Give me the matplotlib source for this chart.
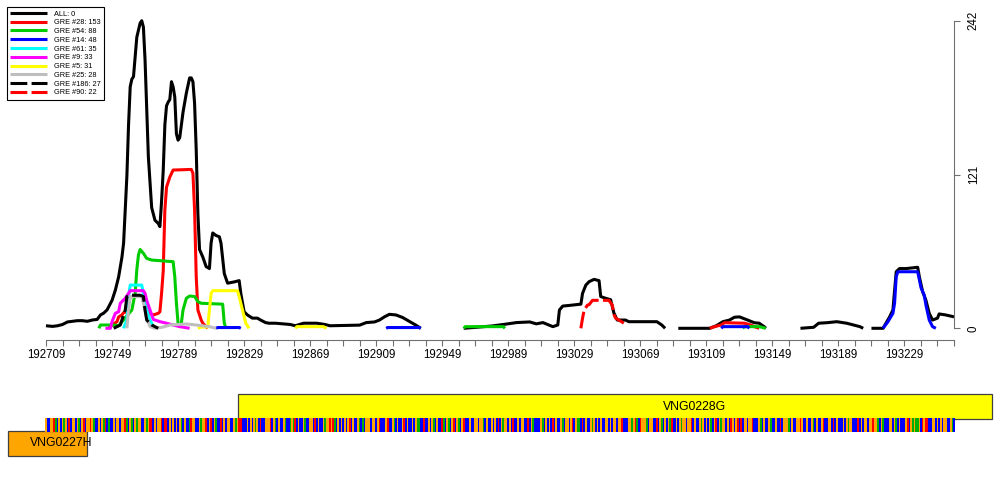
import numpy as np
import matplotlib
matplotlib.use("Agg")
import matplotlib.pyplot as plt

plt.rcParams['font.family'] = ['Liberation Sans', 'DejaVu Sans']

x_start, x_end = 192709, 193259
y_max = 242
N = None  # gap between covered regions

# coverage of all reads (black)
all_pos = [192709, 192713, 192716, 192719, 192722, 192725, 192728, 192731, 192734, 192737,
           192740, 192742, 192744, 192746, 192749, 192751, 192753, 192755, 192756, 192757,
           192758, 192759, 192760, 192761, 192762, 192763, 192764, 192766, 192767, 192768,
           192769, 192770, 192771, 192773, 192775, 192777, 192778, 192779, 192780, 192781,
           192782, 192783, 192784, 192785, 192786, 192787, 192788, 192789, 192790, 192791,
           192792, 192794, 192796, 192797, 192798, 192799, 192800, 192801, 192802, 192804,
           192806, 192808, 192809, 192810, 192812, 192814, 192815, 192817, 192819, 192823,
           192826, 192827, 192829, 192831, 192834, 192837, 192839, 192842, 192844, 192848,
           192857, 192860, 192865, 192873, 192878, 192881, 192899, 192903, 192908, 192911,
           192914, 192917, 192921, 192925, 192929, 192933, 192936, N,
           192962, 192979, 192986, 192994, 193002, 193006, 193010, 193016, 193019, 193020,
           193022, 193026, 193033, 193034, 193036, 193038, 193041, 193044, 193045, 193048,
           193051, 193053, 193055, 193060, 193062, 193079, 193082, 193084, N,
           193092, 193111, 193115, 193119, 193123, 193126, 193129, 193133, 193138, 193141,
           193144, 193145, N,
           193166, 193174, 193177, 193182, 193188, 193194, 193202, 193204, N,
           193209, 193216, 193220, 193222, 193224, 193226, 193230, 193237, 193238, 193240,
           193242, 193244, 193246, 193249, 193250, 193254, 193259]
all_val = [2, 1.5, 2, 3, 5, 5.5, 6, 6, 5.5, 6.5,
           7, 10.5, 12, 14.5, 22, 30, 40.5, 56, 67, 93,
           120, 160, 190, 196, 198, 214, 229, 240, 242, 237,
           211, 172, 135, 95, 85, 82.5, 80, 100, 124, 160,
           175, 178, 180, 194, 190, 182, 153, 148, 150, 160,
           170, 185, 197, 197, 194, 177, 140, 90, 62, 56,
           48.5, 47, 67, 75, 73, 72, 67, 43, 35.5, 36.5,
           37.5, 27.5, 13, 10.5, 8, 8, 6.5, 4.5, 4, 4,
           3, 2, 4, 4, 3, 2, 2.5, 4.5, 5, 6.5,
           9, 11, 10.5, 8.5, 5.5, 2.5, 0, N,
           0, 1.8, 3, 4.5, 5, 3.5, 4.5, 1.3, 2.6, 14.4,
           17.5, 18, 19, 27.5, 34, 36.7, 38.5, 37.5, 25, 23.6,
           22.5, 12, 6.5, 6.5, 5.2, 5.2, 2.6, 0, N,
           0, 0, 2, 5.2, 6.5, 8.7, 9, 7, 4.4, 4,
           1.3, 0, N,
           0, 0.8, 4, 4.4, 5.2, 4, 1.3, 0, N,
           0, 0, 9, 14.4, 44.5, 47, 47, 48, 40.6, 28.8,
           22, 11.8, 6.5, 8, 11.3, 10.5, 9]

gre28_pos = [192747, 192749, 192752, 192753, 192755, 192756, 192758, 192760, 192768, 192770,
             192772, 192774, 192777, 192778, 192779, 192780, 192781, 192782, 192784, 192786,
             192797, 192798, 192799, 192800, 192801, 192803, 192804, 192806, 192807, N,
             193111, 193114, 193118, 193120, 193132, 193136, 193138, 193141]
gre28_val = [0, 2.6, 5.2, 9, 10.5, 12.3, 13, 25, 25, 14.4,
             11.8, 10.5, 11.8, 13, 27.5, 45, 93, 111, 119, 124.5,
             125, 122, 93, 40.6, 14.4, 6.5, 4, 1.3, 0, N,
             0, 1.3, 2.6, 4.4, 4, 2.6, 1.3, 0]

gre54_pos = [192741, 192742, 192750, 192753, 192761, 192763, 192764, 192765, 192766, 192768,
             192770, 192773, 192786, 192787, 192788, 192789, 192790, 192791, 192792, 192794,
             192796, 192799, 192801, 192803, 192816, 192817, 192818, N,
             192962, 192963, 192986, 192987, N,
             193131, 193132, 193141, 193145]
gre54_val = [0, 2.6, 2.6, 2, 14.4, 27.5, 46, 57.7, 62, 59,
             55, 53.7, 52.4, 40.6, 19.7, 4, 1.3, 4, 14.4, 23.6,
             25.4, 25, 21, 19.7, 19, 4, 0, N,
             0, 1.3, 1.3, 0, N,
             0, 1.3, 1.3, 0]

gre14_pos = [192812, 192813, 192826, 192827, N,
             192915, 192916, 192935, 192936, N,
             193118, 193119, 193134, 193135, N,
             193216, 193219, 193222, 193223, 193224, 193225, 193237, 193239, 193241, 193242,
             193244, 193246, 193248]
gre14_val = [0, 0.6, 0.6, 0, N,
             0, 0.6, 0.6, 0, N,
             0, 1.3, 1.3, 0, N,
             0, 5.2, 11.8, 19.7, 40.6, 44.5, 44.5, 32, 26, 18.3,
             6.5, 1.3, 0]

gre61_pos = [192756, 192758, 192759, 192760, 192767, 192768, 192770, 192772, 192774, 192775]
gre61_val = [0, 6.5, 25, 34, 34, 27.5, 14.4, 6.5, 1.3, 0]

gre9_pos = [192745, 192748, 192749, 192751, 192753, 192754, 192755, 192757, 192759, 192760,
            192768, 192769, 192770, 192772, 192774, 192778, 192782, 192786, 192790, 192796]
gre9_val = [0, 0, 5.2, 11.8, 13, 19.7, 21, 23.6, 27.5, 29.6,
            29.6, 27.5, 22, 14.4, 7, 5.2, 4, 2.6, 1.3, 0]

gre5_pos = [192801, 192803, 192807, 192808, 192809, 192810, 192825, 192826, 192828, 192830,
            192832, N,
            192860, 192861, 192877, 192879]
gre5_val = [0, 1, 1, 14.4, 27.5, 29.6, 29.6, 25, 14.4, 4,
            0, N,
            0, 1.3, 1.3, 0]

gre25_pos = [192758, 192759, 192760, 192767, 192768, 192770, 192772, 192775, 192780, 192784,
             192794, 192800, 192808, 192812]
gre25_val = [0, 14.4, 25, 25, 19.7, 8, 1.3, 0, 1, 2.6,
             3.4, 2.6, 1.3, 0]

gre186_pos = [192750, 192752, 192754, 192757, 192758, 192760, 192766, 192768, 192769, 192770,
              192773, 192775, 192777]
gre186_val = [0, 1.3, 2.6, 14.4, 25, 26, 26, 25, 14.4, 6.5,
              2.6, 1.3, 0]

gre90_pos = [193033, 193034, 193035, 193037, 193038, 193040, 193050, 193052, 193053, 193054,
             193056, 193059]
gre90_val = [0, 8, 14.4, 18.3, 18.6, 22, 22, 18.3, 11, 8,
             6.5, 4]

series_labels = ["ALL: 0", "GRE #28: 153", "GRE #54: 88", "GRE #14: 48", "GRE #61: 35",
                 "GRE #9: 33", "GRE #5: 31", "GRE #25: 28", "GRE #186: 27", "GRE #90: 22"]
series_pos = [all_pos, gre28_pos, gre54_pos, gre14_pos, gre61_pos,
              gre9_pos, gre5_pos, gre25_pos, gre186_pos, gre90_pos]
series_val = [all_val, gre28_val, gre54_val, gre14_val, gre61_val,
              gre9_val, gre5_val, gre25_val, gre186_val, gre90_val]
series_col = ['black', '#FF0000', '#00CC00', '#0000FF', '#00FFFF',
              '#FF00FF', '#FFFF00', '#BEBEBE', 'black', '#FF0000']
series_dash = [False] * 8 + [True, True]

# genes and sequence
gene_names = ["VNG0228G", "VNG0227H"]
gene_start = [192825, 192686]
gene_end = [193282, 192734]
gene_cols = ['#FFFF00', '#FFA500']
gene_label_x = [193102, 192718]

sequence = ("GCCGGTACGCGAGCTCGGCGACGTCGGTGACCGCGATCACCGCGGCGGTA"
            "CGACGAGGCCGAGTTCGCGGTCTTCGCGCGCGACGCCATGGCCGAGGTCG"
            "TCGACCTCGCGGCCGAGTTCCCGCGCGAGCTCCGGGTCGACGCCGACCAG"
            "ATCGCCGACCGGCTCGCCGAGGTGTACGCGCGCGTCGCCGACACGGGCGG"
            "CGTCCCGTCCGACGCCGTCGCCGCGAACCTCCGCGACGCCTACGACGTCG"
            "ACGTCCCGCCGGCGGACGCCGCGCTCGAGGCGCTCCGCGGCCTCGACCCC"
            "GACGCGCTCGCCGACGGCGTCGAACTCGCCGAGCGCGCCGGCGCGGCGGT"
            "CCCGGAGTACTGGGACGGCCTCGACGCGATCCGCGAGGCGGTCGCCGAGC"
            "GCGACGTCGAGGCGCTGCGTCTCGGCGGTCCCGACGCCGACCGCCTCGGG"
            "ACGCCGGTGCCGCCGACGCCGTCCGGCTCGCCCGCGAGGCCCTCGCGGCG"
            "GTGGACGACCCGGCGACGCCCGTCGAGAAGCTGTTCCGGCGCGCGGCCGAC"
            "GCGACCTCGTCGAGGCG")
base_col = {'A': '#00B000', 'C': '#0000FF', 'G': '#FFA500', 'T': '#FF0000'}

fig = plt.figure(figsize=(10, 5), dpi=100)
ax = fig.add_axes([0.046, 1 - 328.3 / 500, 0.908, 307.6 / 500])
ax.set_xlim(x_start, x_end)
ax.set_ylim(0, y_max)

handles = []
for p, v, c, d, lab in zip(series_pos, series_val, series_col, series_dash, series_labels):
    p = np.array([np.nan if q is None else q for q in p], dtype=float)
    v = np.array([np.nan if q is None else q for q in v], dtype=float)
    ln, = ax.plot(p, v, color=c, lw=2.2, label=lab, clip_on=False, solid_capstyle='butt')
    if d:
        ln.set_dashes((5.5, 1.4))
    handles.append(ln)

for s in ['top', 'left']:
    ax.spines[s].set_visible(False)
ax.spines['bottom'].set_position(('outward', 8.6))
ax.spines['bottom'].set_color('#707070')
ax.spines['right'].set_color('#707070')

xt = np.arange(x_start, x_end + 1, 10)
ax.set_xticks(xt)
ax.set_xticklabels([str(t) if (t - x_start) % 40 == 0 else '' for t in xt])
ax.yaxis.tick_right()
ax.set_yticks([0, 121, 242])
ax.set_yticklabels(['0', '121', '242'], rotation=90, va='center')
ax.tick_params(axis='both', direction='out', length=4, width=0.8, color='#707070',
               labelsize=8.3, pad=2.5)
ax.tick_params(axis='y', pad=6)

leg = fig.legend(handles, series_labels, loc='upper left', bbox_to_anchor=(0.003, 0.994),
                 fontsize=5.3, handlelength=5.0, handletextpad=0.9, labelspacing=0.22,
                 borderpad=0.5, fancybox=False, framealpha=1, edgecolor='black')
leg.get_frame().set_linewidth(0.8)

# gene / sequence track
tax = fig.add_axes([0.046, 0.08, 0.908, 0.14])
tax.set_xlim(x_start, x_end)
tax.set_ylim(0, 70)
tax.axis('off')

bars = tax.barh([53.5, 16.8], [e - s for s, e in zip(gene_start, gene_end)], left=gene_start,
                height=25, color=gene_cols, edgecolor='#404040', linewidth=0.9)
for b in bars:
    b.set_clip_on(False)
for name, gx, gy in zip(gene_names, gene_label_x, [53.5, 16.8]):
    tax.text(gx, gy, name, ha='center', va='center', fontsize=8.8, clip_on=False)

seq = sequence[:x_end - x_start + 1]
seq_pos = x_start + np.arange(len(seq))
tax.bar(seq_pos, 13.4, bottom=28.3, width=1.0, color=[base_col[b] for b in seq],
        linewidth=0, clip_on=False)

fig.savefig('out.png', dpi=100)
